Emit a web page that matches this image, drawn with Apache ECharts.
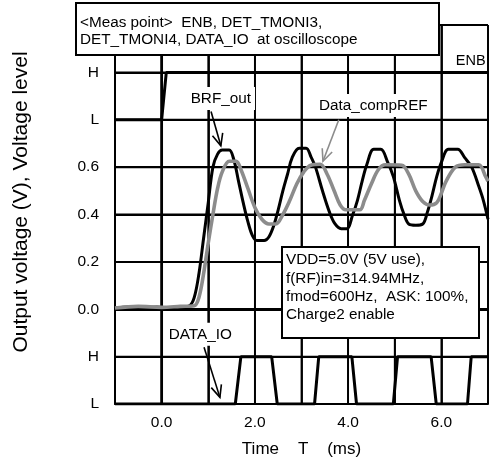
<!DOCTYPE html>
<html><head><meta charset="utf-8">
<script src="https://cdn.jsdelivr.net/npm/echarts@6/dist/echarts.min.js"></script>
<style>html,body{margin:0;padding:0;background:#fff}#c{width:491px;height:463px;background:#fff}</style>
</head><body><div id="c"></div>
<script>
// ---- data ----
const xTickValues = [-1, 0, 1, 2, 3, 4, 5, 6, 7];
const xTickLabels = ['', '0.0', '', '2.0', '', '4.0', '', '6.0', ''];
const yTickValues = [-0.4, -0.2, 0, 0.2, 0.4, 0.6, 0.8, 1.0, 1.2];
const yTickLabels = ['L', 'H', '0.0', '0.2', '0.4', '0.6', 'L', 'H', ''];

const enbTime  = [-1, 0, 0.1, 7];
const enbLevel = [0.8, 0.8, 1.0, 1.0];

const brfTime = [-1, -0.7, -0.4, -0.1, 0.2, 0.45, 0.6, 0.7, 0.8, 0.9, 1.0, 1.1, 1.2, 1.3, 1.45, 1.55, 1.65, 1.75, 1.85, 1.95, 2.05, 2.2, 2.3, 2.4, 2.5, 2.6, 2.7, 2.8, 2.95, 3.1, 3.2, 3.3, 3.45, 3.6, 3.72, 3.85, 3.97, 4.1, 4.2, 4.3, 4.4, 4.55, 4.7, 4.85, 4.97, 5.1, 5.2, 5.3, 5.45, 5.6, 5.7, 5.8, 5.9, 6.0, 6.15, 6.35, 6.5, 6.65, 6.8, 6.9, 7.0];
const brfOut  = [0.005, 0.01, 0.005, 0.01, 0.005, 0.01, 0.015, 0.05, 0.15, 0.3, 0.45, 0.6, 0.655, 0.672, 0.672, 0.63, 0.54, 0.45, 0.37, 0.31, 0.29, 0.29, 0.305, 0.35, 0.42, 0.5, 0.57, 0.64, 0.68, 0.68, 0.645, 0.6, 0.5, 0.41, 0.36, 0.34, 0.34, 0.4, 0.46, 0.54, 0.61, 0.675, 0.675, 0.62, 0.56, 0.46, 0.4, 0.36, 0.355, 0.36, 0.41, 0.48, 0.56, 0.62, 0.675, 0.675, 0.64, 0.6, 0.52, 0.46, 0.38];

const refTime = [-1, -0.5, 0, 0.4, 0.7, 0.8, 0.9, 1.0, 1.1, 1.2, 1.3, 1.45, 1.6, 1.7, 1.85, 2.0, 2.15, 2.3, 2.45, 2.6, 2.75, 2.9, 3.05, 3.2, 3.4, 3.55, 3.7, 3.83, 3.95, 4.25, 4.35, 4.5, 4.65, 4.8, 5.15, 5.3, 5.45, 5.6, 5.75, 5.9, 6.0, 6.1, 6.3, 6.5, 6.8, 6.95, 7.0];
const dataCompRef = [0.005, 0.012, 0.008, 0.012, 0.015, 0.05, 0.15, 0.28, 0.4, 0.51, 0.58, 0.625, 0.625, 0.59, 0.51, 0.43, 0.38, 0.36, 0.36, 0.4, 0.46, 0.53, 0.58, 0.608, 0.612, 0.57, 0.5, 0.44, 0.42, 0.42, 0.46, 0.53, 0.59, 0.61, 0.608, 0.57, 0.5, 0.455, 0.44, 0.45, 0.49, 0.54, 0.6, 0.61, 0.61, 0.56, 0.54];

const ioTime  = [-1, 1.58, 1.7, 2.36, 2.48, 3.28, 3.37, 4.08, 4.18, 4.97, 5.06, 5.78, 5.89, 6.56, 6.64, 7.0];
const dataIO  = [-0.4, -0.4, -0.2, -0.2, -0.4, -0.4, -0.2, -0.2, -0.4, -0.4, -0.2, -0.2, -0.4, -0.4, -0.2, -0.2];

// ---- chart ----
const FONT = '"Liberation Sans", Arial, sans-serif';
const X_MIN = -1, X_MAX = 7, Y_MIN = -0.4, Y_MAX = 1.2;
const zip = (a, b) => a.map((t, i) => [t, b[i]]);
const lbl = (vals, labs) => v => { const i = vals.findIndex(x => Math.abs(x - v) < 1e-6); return i < 0 ? '' : labs[i]; };

const gridSeries = [
  ...xTickValues.map(v => ({ type: 'line', silent: true, z: 4.5, showSymbol: false, symbol: 'none', clip: false,
      data: [[v, Y_MIN], [v, Y_MAX]], lineStyle: { color: '#000', width: v === 0 ? 2.8 : 1.8 }, emphasis: { disabled: true } })),
  ...yTickValues.map(v => ({ type: 'line', silent: true, z: 4.5, showSymbol: false, symbol: 'none', clip: false,
      data: [[X_MIN, v], [X_MAX, v]], lineStyle: { color: '#000', width: v === 0 ? 2.6 : 2 }, emphasis: { disabled: true } }))
];

const chart = echarts.init(document.getElementById('c'), null, { renderer: 'canvas' });
const plain = { showSymbol: false, symbol: 'none', emphasis: { disabled: true } };
const option = {
  animation: false,
  grid: { left: 115, top: 25, width: 376, height: 379, containLabel: false },
  xAxis: {
    type: 'value', min: X_MIN, max: X_MAX, interval: 1,
    axisLine: { show: true, onZero: false, lineStyle: { color: '#000', width: 2 } },
    axisTick: { show: false },
    splitLine: { show: true, lineStyle: { color: '#000', width: 1.8 } },
    axisLabel: { formatter: lbl(xTickValues, xTickLabels), color: '#000', fontFamily: FONT, fontSize: 15.5, margin: 11, showMinLabel: true, showMaxLabel: true },
    name: 'Time    T    (ms)', nameLocation: 'middle', nameGap: 37,
    nameTextStyle: { color: '#000', fontFamily: FONT, fontSize: 17 }
  },
  yAxis: {
    type: 'value', min: Y_MIN, max: Y_MAX, interval: 0.2,
    axisLine: { show: true, onZero: false, lineStyle: { color: '#000', width: 2 } },
    axisTick: { show: false },
    splitLine: { show: true, lineStyle: { color: '#000', width: 2 } },
    axisLabel: { formatter: lbl(yTickValues, yTickLabels), color: '#000', fontFamily: FONT, fontSize: 15.5, margin: 16, align: 'right' }
  },
  series: [
    ...gridSeries,
    Object.assign({ type: 'line', name: 'ENB', data: zip(enbTime, enbLevel), lineStyle: { color: '#000', width: 3 }, z: 6 }, plain),
    Object.assign({ type: 'line', name: 'DATA_IO', data: zip(ioTime, dataIO), lineStyle: { color: '#000', width: 3 }, z: 6 }, plain),
    Object.assign({ type: 'line', name: 'BRF_out', data: zip(brfTime, brfOut), smooth: 0.35, lineStyle: { color: '#000', width: 3 }, z: 6 }, plain),
    Object.assign({ type: 'line', name: 'Data_compREF', data: zip(refTime, dataCompRef), smooth: 0.35, lineStyle: { color: '#8c8c8c', width: 3.6 }, z: 7 }, plain)
  ]
};
chart.setOption(option);

// ---- annotations ----
const px = p => chart.convertToPixel({ gridIndex: 0 }, p);
function arrow(from, to, color) {
  const a = px(from), b = px(to);
  const ang = Math.atan2(b[1] - a[1], b[0] - a[0]);
  const L = 13, w = 0.42;
  const w1 = [b[0] - L * Math.cos(ang - w), b[1] - L * Math.sin(ang - w)];
  const w2 = [b[0] - L * Math.cos(ang + w), b[1] - L * Math.sin(ang + w)];
  return [
    { type: 'polyline', z: 20, shape: { points: [a, b] }, style: { stroke: color, lineWidth: 1.6, fill: 'none' } },
    { type: 'polyline', z: 20, shape: { points: [w1, b, w2] }, style: { stroke: color, lineWidth: 1.6, fill: 'none' } }
  ];
}
function label(text, at, opts) {
  const p = px(at);
  return Object.assign({ type: 'text', z: 19, x: p[0], y: p[1],
    style: Object.assign({ text, font: '15.3px ' + FONT, fill: '#000', align: 'center', verticalAlign: 'middle',
      backgroundColor: '#fff', padding: [4, 4] }, opts || {}) });
}
const graphics = [
  { type: 'text', x: 21, y: 202, rotation: Math.PI / 2,
    style: { text: 'Output voltage (V), Voltage level', font: '21px ' + FONT, fill: '#000', align: 'center', verticalAlign: 'middle' } },
  { type: 'rect', z: 30, shape: { x: 76, y: 3, width: 363, height: 52 }, style: { fill: '#fff', stroke: '#000', lineWidth: 2 } },
  { type: 'text', z: 31, x: 80, y: 14,
    style: { text: '<Meas point>  ENB, DET_TMONI3,\nDET_TMONI4, DATA_IO  at oscilloscope', font: '15.3px ' + FONT, fill: '#000', lineHeight: 17.5 } },
  { type: 'rect', z: 30, shape: { x: 282, y: 247, width: 197, height: 91 }, style: { fill: '#fff', stroke: '#000', lineWidth: 2 } },
  { type: 'text', z: 31, x: 286, y: 251,
    style: { text: 'VDD=5.0V (5V use),\nf(RF)in=314.94MHz,\nfmod=600Hz,  ASK: 100%,\nCharge2 enable', font: '15.3px ' + FONT, fill: '#000', lineHeight: 18.3 } },
  label('ENB', [6.63, 1.05], { backgroundColor: 'transparent', font: '14.5px ' + FONT }),
  label('BRF_out', [1.27, 0.89]),
  label('Data_compREF', [4.54, 0.86]),
  label('DATA_IO', [0.83, -0.106]),
  ...arrow([1.06, 0.835], [1.27, 0.69], '#000'),
  ...arrow([3.8, 0.80], [3.46, 0.625], '#8c8c8c'),
  ...arrow([0.91, -0.16], [1.25, -0.372], '#000')
];
chart.setOption({ graphic: graphics });
</script>
</body></html>
